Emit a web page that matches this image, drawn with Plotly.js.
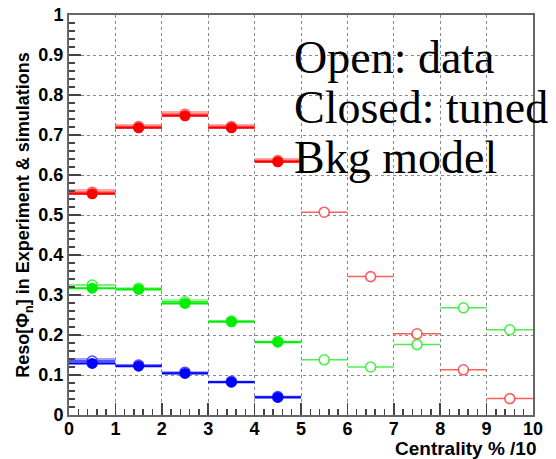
<!DOCTYPE html>
<html>
<head>
<meta charset="utf-8">
<script src="https://cdn.plot.ly/plotly-3.0.1.min.js"></script>
<style>html,body{margin:0;padding:0;background:#fff}#chart{width:556px;height:459px}</style>
</head>
<body>
<div id="chart"></div>
<script>
// Bin centres (centrality %/10)
const binCenters = [0.5, 1.5, 2.5, 3.5, 4.5, 5.5, 6.5, 7.5, 8.5, 9.5];
const binHalfWidth = [0.5, 0.5, 0.5, 0.5, 0.5, 0.5, 0.5, 0.5, 0.5, 0.5];
const tunedBins = [0.5, 1.5, 2.5, 3.5, 4.5];

// Open: data
const redData   = [0.557, 0.721, 0.752, 0.721, 0.636, 0.507, 0.346, 0.203, 0.113, 0.041];
const greenData = [0.325, 0.317, 0.283, 0.235, 0.184, 0.138, 0.120, 0.176, 0.268, 0.213];
const blueData  = [0.135, 0.125, 0.107, 0.084, 0.046];
// data uncertainty (drawn as light bands)
const redErr   = [0.008, 0.007, 0.007, 0.007, 0.006];
const greenErr = [0.0, 0.0, 0.006, 0.0, 0.0];
const blueErr  = [0.007, 0.0, 0.0, 0.0, 0.0];

// Closed: tuned Bkg model
const redTuned   = [0.553, 0.718, 0.748, 0.718, 0.633];
const greenTuned = [0.317, 0.314, 0.279, 0.233, 0.182];
const blueTuned  = [0.129, 0.122, 0.104, 0.082, 0.044];

const yTickVals = [0, 0.1, 0.2, 0.3, 0.4, 0.5, 0.6, 0.7, 0.8, 0.9, 1];
const yTickText = ["0", "0.1", "0.2", "0.3", "0.4", "0.5", "0.6", "0.7", "0.8", "0.9", "1"];
const xTickVals = [0, 1, 2, 3, 4, 5, 6, 7, 8, 9, 10];
const xTickText = ["0", "1", "2", "3", "4", "5", "6", "7", "8", "9", "10"];

const series = [
  {data: redData, err: redErr, tuned: redTuned, color: "#ff0000", light: "rgba(255,40,40,0.75)", band: "rgba(255,60,60,0.45)"},
  {data: greenData, err: greenErr, tuned: greenTuned, color: "#00ee00", light: "rgba(30,235,30,0.8)", band: "rgba(40,235,40,0.45)"},
  {data: blueData, err: blueErr, tuned: blueTuned, color: "#0000ff", light: "rgba(30,30,255,0.8)", band: "rgba(40,40,255,0.45)"}
];

const traces = [];
// bands
series.forEach(s => {
  traces.push({
    type: "bar",
    x: tunedBins,
    base: s.err.map((e, i) => s.data[i] - e),
    y: s.err.map(e => 2 * e),
    width: s.err.map(() => 1),
    marker: {color: s.band, line: {width: 0}},
    hoverinfo: "skip", showlegend: false
  });
});
// open data
series.forEach(s => {
  traces.push({
    type: "scatter", mode: "markers",
    x: binCenters.slice(0, s.data.length), y: s.data,
    error_x: {type: "data", array: binHalfWidth.slice(0, s.data.length), width: 0, thickness: 1.5, color: s.light},
    marker: {symbol: "circle", size: 10, color: "#ffffff", line: {color: s.light, width: 1.6}},
    showlegend: false
  });
});
// closed tuned
series.forEach(s => {
  traces.push({
    type: "scatter", mode: "markers",
    x: tunedBins, y: s.tuned,
    error_x: {type: "data", array: binHalfWidth.slice(0, s.tuned.length), width: 0, thickness: 2, color: s.color},
    marker: {symbol: "circle", size: 11, color: s.color, line: {width: 0}},
    showlegend: false
  });
});

const tickFont = {family: "Liberation Sans, Arial, sans-serif", size: 18, color: "#000", weight: "bold"};
const annFont = {family: "Liberation Serif, Times New Roman, serif", size: 46, color: "#000"};

const layout = {
  width: 556, height: 459,
  margin: {l: 69, r: 23, t: 15, b: 44, pad: 0},
  paper_bgcolor: "#ffffff", plot_bgcolor: "#ffffff",
  barmode: "overlay", bargap: 0,
  showlegend: false,
  xaxis: {
    range: [0, 10], tickvals: xTickVals, ticktext: xTickText,
    ticks: "inside", ticklen: 12, tickwidth: 1.5, tickcolor: "#444",
    minor: {dtick: 0.2, ticks: "inside", ticklen: 6, tickwidth: 1.5, tickcolor: "#444", showgrid: false},
    showgrid: true, gridcolor: "#888", griddash: "dot", gridwidth: 1,
    showline: true, linecolor: "#666", linewidth: 2, mirror: true,
    zeroline: false, tickfont: tickFont, fixedrange: true, ticklabelstandoff: -4
  },
  yaxis: {
    range: [0, 1], tickvals: yTickVals, ticktext: yTickText,
    ticks: "inside", ticklen: 12, tickwidth: 1.5, tickcolor: "#444",
    minor: {dtick: 0.02, ticks: "inside", ticklen: 6, tickwidth: 1.5, tickcolor: "#444", showgrid: false},
    showgrid: true, gridcolor: "#888", griddash: "dot", gridwidth: 1,
    showline: true, linecolor: "#666", linewidth: 2, mirror: true,
    zeroline: false, tickfont: tickFont, fixedrange: true,
    title: {text: "Reso[Φ<sub>n</sub>] in Experiment &amp; simulations", font: {family: "Liberation Sans, Arial, sans-serif", size: 18, color: "#000", weight: "bold"}, standoff: 4}
  },
  annotations: [
    {xref: "paper", yref: "paper", x: 1.013, xanchor: "right", y: -0.084, yanchor: "middle", showarrow: false,
     text: "Centrality % /10", font: {family: "Liberation Sans, Arial, sans-serif", size: 19, color: "#000", weight: "bold"}},
    {xref: "x", yref: "y", x: 4.8, xanchor: "left", y: 0.895, yanchor: "middle", showarrow: false, text: "Open: data", font: annFont},
    {xref: "x", yref: "y", x: 4.8, xanchor: "left", y: 0.77, yanchor: "middle", showarrow: false, text: "Closed: tuned", font: annFont},
    {xref: "x", yref: "y", x: 4.8, xanchor: "left", y: 0.645, yanchor: "middle", showarrow: false, text: "Bkg model", font: annFont}
  ]
};

Plotly.newPlot("chart", traces, layout, {staticPlot: true, displayModeBar: false});
</script>
</body>
</html>
